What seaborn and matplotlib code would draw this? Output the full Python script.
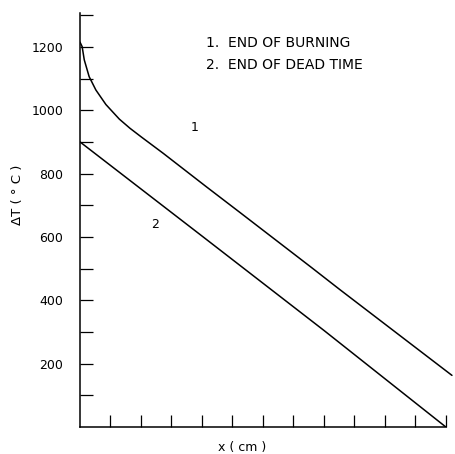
import matplotlib
matplotlib.use("Agg")
import matplotlib.pyplot as plt
import seaborn as sns
import pandas as pd
from matplotlib.ticker import NullFormatter

# Data
x_burn = [0.0, 0.07, 0.14, 0.30, 0.52, 0.85, 1.29, 1.64, 2.02, 2.73, 4.15, 5.25, 7.6, 8.52, 12.2]
dT_burn = [1215, 1201, 1159, 1106, 1064, 1018, 972, 943, 915, 864, 758, 677, 503, 434, 163]
x_dead = [0.0, 4.0, 8.0, 12.0]
dT_dead = [900, 603, 305, 0]

y_major = [200, 400, 600, 800, 1000, 1200]
y_minor = [100, 300, 500, 700, 900, 1100, 1300]
x_ticks = list(range(1, 13))
legend_lines = ["1.  END OF BURNING", "2.  END OF DEAD TIME"]

sns.set_style("ticks")
plt.rcParams['font.family'] = ['DejaVu Sans']
plt.rcParams['text.color'] = 'black'
plt.rcParams['axes.labelcolor'] = 'black'

W, H = 455, 454
fig = plt.figure(figsize=(W / 100, H / 100), dpi=100)
ax = fig.add_axes([80 / W, 1 - 427 / H, (455 - 80) / W, (427 - 13) / H])

df1 = pd.DataFrame({"x": x_burn, "dT": dT_burn})
df2 = pd.DataFrame({"x": x_dead, "dT": dT_dead})
sns.lineplot(data=df1, x="x", y="dT", ax=ax, color="black", linewidth=1.1, estimator=None, sort=False)
sns.lineplot(data=df2, x="x", y="dT", ax=ax, color="black", linewidth=1.1, estimator=None, sort=False)

ax.set_xlim(0, 12.3)
ax.set_ylim(0, 1307)

ax.spines['top'].set_visible(False)
ax.spines['right'].set_visible(False)
ax.spines['bottom'].set_bounds(0, 12)
for s in ('left', 'bottom'):
    ax.spines[s].set_linewidth(1.1)
    ax.spines[s].set_color('black')

ax.set_xticks(x_ticks)
ax.xaxis.set_major_formatter(NullFormatter())
ax.set_yticks(y_major)
ax.set_yticklabels([str(v) for v in y_major])
ax.set_yticks(y_minor, minor=True)
ax.tick_params(axis='y', which='both', direction='in', length=9, width=0.9, pad=12, labelsize=9, colors='black')
ax.tick_params(axis='x', which='both', direction='in', length=9, width=0.9, colors='black')

ax.set_xlabel("x ( cm )", fontsize=9)
ax.xaxis.set_label_coords(0.432, -0.034)
ax.set_ylabel("ΔT ( ° C )", fontsize=9.5)
ax.yaxis.set_label_coords(-0.148, 0.56)

ax.text(3.77, 944, "1", fontsize=9, ha='center', va='center')
ax.text(2.46, 639, "2", fontsize=9, ha='center', va='center')

fig.text(206 / W, 1 - 43 / H, legend_lines[0], fontsize=10, ha='left', va='center')
fig.text(206 / W, 1 - 65 / H, legend_lines[1], fontsize=10, ha='left', va='center')

fig.savefig("out.png", dpi=100)
